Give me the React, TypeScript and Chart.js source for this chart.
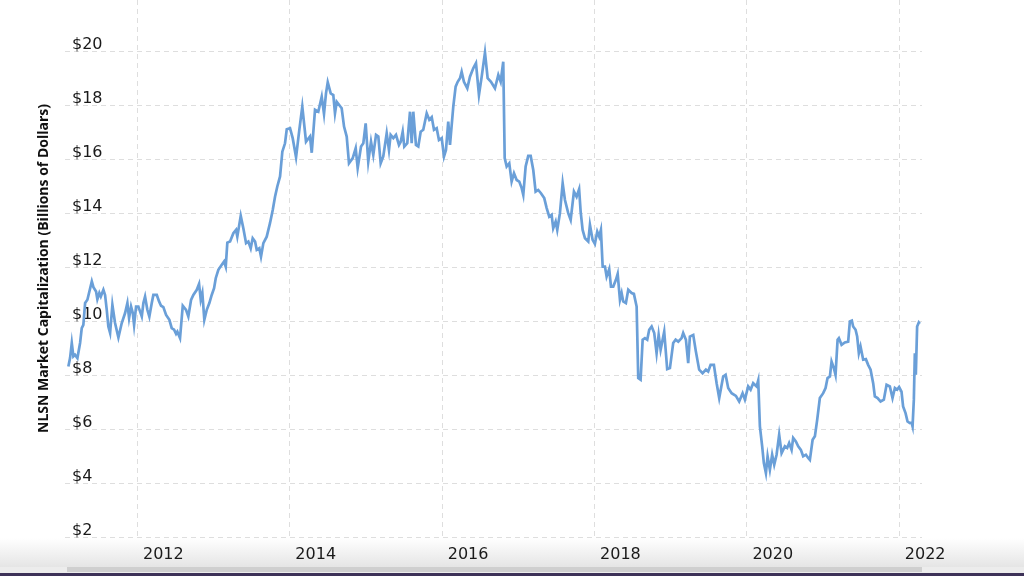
import React, { useEffect, useRef } from "react";
import { Chart, registerables } from "chart.js";

Chart.register(...registerables);

// Decimal-year dates of the samples
const sampleDates: number[] = [
  2011.094, 2011.117, 2011.139, 2011.160, 2011.182, 2011.213, 2011.248, 2011.270, 2011.291, 2011.314,
  2011.344, 2011.402, 2011.423, 2011.458, 2011.475, 2011.501, 2011.520, 2011.554, 2011.576, 2011.598,
  2011.619, 2011.642, 2011.672, 2011.707, 2011.751, 2011.795, 2011.839, 2011.869, 2011.891, 2011.917,
  2011.940, 2011.957, 2011.983, 2012.013, 2012.035, 2012.058, 2012.079, 2012.101, 2012.131, 2012.157,
  2012.189, 2012.210, 2012.255, 2012.285, 2012.311, 2012.341, 2012.377, 2012.420, 2012.451, 2012.482,
  2012.508, 2012.525, 2012.560, 2012.596, 2012.639, 2012.669, 2012.705, 2012.735, 2012.780, 2012.810,
  2012.832, 2012.853, 2012.879, 2012.911, 2012.945, 2012.976, 2013.007, 2013.029, 2013.063, 2013.108,
  2013.138, 2013.160, 2013.181, 2013.217, 2013.260, 2013.295, 2013.312, 2013.357, 2013.391, 2013.427,
  2013.457, 2013.488, 2013.514, 2013.545, 2013.567, 2013.601, 2013.623, 2013.654, 2013.698, 2013.741,
  2013.777, 2013.807, 2013.837, 2013.873, 2013.903, 2013.938, 2013.961, 2014.004, 2014.039, 2014.083,
  2014.126, 2014.165, 2014.214, 2014.266, 2014.289, 2014.332, 2014.375, 2014.420, 2014.450, 2014.476,
  2014.499, 2014.538, 2014.572, 2014.594, 2014.617, 2014.682, 2014.713, 2014.748, 2014.778, 2014.827,
  2014.866, 2014.892, 2014.936, 2014.966, 2014.997, 2015.031, 2015.067, 2015.097, 2015.133, 2015.163,
  2015.194, 2015.228, 2015.273, 2015.303, 2015.325, 2015.360, 2015.395, 2015.434, 2015.457, 2015.483,
  2015.504, 2015.543, 2015.579, 2015.601, 2015.622, 2015.657, 2015.688, 2015.719, 2015.753, 2015.798,
  2015.832, 2015.864, 2015.894, 2015.929, 2015.959, 2015.995, 2016.025, 2016.051, 2016.081, 2016.104,
  2016.147, 2016.178, 2016.205, 2016.235, 2016.257, 2016.287, 2016.331, 2016.366, 2016.409, 2016.445,
  2016.484, 2016.520, 2016.563, 2016.598, 2016.642, 2016.694, 2016.738, 2016.769, 2016.803, 2016.822,
  2016.848, 2016.882, 2016.913, 2016.944, 2016.979, 2017.013, 2017.045, 2017.066, 2017.097, 2017.131,
  2017.163, 2017.197, 2017.228, 2017.262, 2017.298, 2017.341, 2017.373, 2017.407, 2017.438, 2017.459,
  2017.491, 2017.512, 2017.547, 2017.583, 2017.613, 2017.656, 2017.688, 2017.731, 2017.766, 2017.799,
  2017.819, 2017.845, 2017.876, 2017.919, 2017.941, 2017.976, 2018.006, 2018.037, 2018.063, 2018.085,
  2018.108, 2018.138, 2018.160, 2018.194, 2018.217, 2018.247, 2018.282, 2018.305, 2018.335, 2018.357,
  2018.378, 2018.413, 2018.444, 2018.488, 2018.518, 2018.554, 2018.575, 2018.606, 2018.633, 2018.663,
  2018.693, 2018.719, 2018.751, 2018.785, 2018.816, 2018.843, 2018.869, 2018.916, 2018.955, 2018.991,
  2019.034, 2019.066, 2019.100, 2019.144, 2019.165, 2019.201, 2019.231, 2019.253, 2019.297, 2019.332,
  2019.375, 2019.420, 2019.463, 2019.493, 2019.525, 2019.568, 2019.604, 2019.638, 2019.690, 2019.722,
  2019.756, 2019.801, 2019.857, 2019.900, 2019.945, 2019.975, 2020.018, 2020.050, 2020.084, 2020.129,
  2020.150, 2020.172, 2020.202, 2020.224, 2020.251, 2020.273, 2020.303, 2020.333, 2020.360, 2020.391,
  2020.425, 2020.457, 2020.500, 2020.530, 2020.556, 2020.588, 2020.609, 2020.644, 2020.675, 2020.710,
  2020.740, 2020.776, 2020.806, 2020.828, 2020.864, 2020.894, 2020.924, 2020.959, 2021.003, 2021.034,
  2021.060, 2021.091, 2021.113, 2021.143, 2021.165, 2021.192, 2021.209, 2021.244, 2021.287, 2021.331,
  2021.353, 2021.379, 2021.396, 2021.428, 2021.449, 2021.471, 2021.493, 2021.528, 2021.563, 2021.593,
  2021.625, 2021.659, 2021.681, 2021.717, 2021.756, 2021.799, 2021.835, 2021.878, 2021.913, 2021.944,
  2021.974, 2022.000, 2022.031, 2022.052, 2022.084, 2022.110, 2022.140, 2022.163, 2022.176, 2022.193,
  2022.206, 2022.219, 2022.236, 2022.258, 2022.271,
];

// NLSN market capitalization, billions of dollars
const marketCap: number[] = [
  8.32, 8.64, 9.19, 8.69, 8.75, 8.63, 9.19, 9.74, 9.86, 10.67,
  10.79, 11.47, 11.26, 11.10, 10.81, 11.04, 10.91, 11.16, 10.97, 10.42,
  9.80, 9.56, 10.60, 9.93, 9.39, 9.93, 10.30, 10.67, 10.11, 10.54,
  10.30, 9.86, 10.54, 10.54, 10.36, 10.17, 10.67, 10.91, 10.42, 10.17,
  10.67, 10.97, 10.97, 10.73, 10.57, 10.52, 10.23, 10.05, 9.74, 9.68,
  9.53, 9.61, 9.37, 10.57, 10.42, 10.17, 10.79, 10.97, 11.16, 11.38,
  10.79, 11.04, 10.05, 10.42, 10.67, 10.97, 11.22, 11.59, 11.90, 12.09,
  12.21, 12.02, 12.91, 12.95, 13.26, 13.38, 13.13, 13.90, 13.44, 12.89,
  12.95, 12.70, 13.07, 12.95, 12.64, 12.70, 12.39, 12.89, 13.13, 13.63,
  14.12, 14.61, 14.99, 15.36, 16.28, 16.59, 17.11, 17.15, 16.78, 16.07,
  17.09, 17.95, 16.65, 16.84, 16.24, 17.83, 17.76, 18.32, 17.68, 18.44,
  18.85, 18.44, 18.38, 17.70, 18.13, 17.89, 17.21, 16.84, 15.85, 16.04,
  16.41, 15.67, 16.47, 16.59, 17.33, 15.91, 16.65, 16.16, 16.90, 16.84,
  15.85, 16.10, 16.96, 16.34, 16.90, 16.78, 16.90, 16.53, 16.65, 17.02,
  16.47, 16.59, 17.76, 16.59, 17.76, 16.53, 16.47, 17.02, 17.09, 17.70,
  17.46, 17.56, 17.09, 17.15, 16.71, 16.78, 16.10, 16.34, 17.39, 16.53,
  17.95, 18.69, 18.87, 19.00, 19.24, 18.87, 18.63, 19.06, 19.37, 19.56,
  18.38, 19.06, 19.95, 19.00, 18.87, 18.63, 19.12, 18.87, 19.61, 16.04,
  15.73, 15.85, 15.17, 15.48, 15.23, 15.17, 14.93, 14.68, 15.73, 16.12,
  16.12, 15.60, 14.80, 14.86, 14.74, 14.56, 14.19, 13.87, 13.94, 13.44,
  13.69, 13.38, 14.00, 15.11, 14.49, 14.00, 13.75, 14.80, 14.61, 14.89,
  14.06, 13.38, 13.07, 12.95, 13.57, 13.01, 12.86, 13.32, 13.13, 13.38,
  12.02, 12.02, 11.65, 11.93, 11.28, 11.28, 11.53, 11.75, 10.79, 11.04,
  10.73, 10.67, 11.16, 11.04, 11.01, 10.54, 7.89, 7.83, 9.31, 9.37,
  9.31, 9.68, 9.80, 9.56, 8.81, 9.49, 8.94, 9.61, 8.22, 8.26,
  9.19, 9.31, 9.24, 9.37, 9.56, 9.31, 8.44, 9.43, 9.49, 8.87,
  8.20, 8.07, 8.20, 8.13, 8.38, 8.38, 7.70, 7.15, 7.95, 8.01,
  7.52, 7.33, 7.23, 7.02, 7.33, 7.09, 7.58, 7.46, 7.70, 7.58,
  7.80, 6.10, 5.36, 4.74, 4.37, 4.99, 4.49, 5.05, 4.68, 5.05,
  5.79, 5.11, 5.36, 5.30, 5.48, 5.23, 5.67, 5.54, 5.36, 5.23,
  4.99, 5.05, 4.93, 4.86, 5.60, 5.73, 6.34, 7.15, 7.33, 7.52,
  7.89, 7.95, 8.50, 8.26, 8.01, 9.31, 9.37, 9.12, 9.21, 9.24,
  9.99, 10.02, 9.80, 9.68, 9.43, 8.81, 9.06, 8.57, 8.59, 8.38,
  8.20, 7.70, 7.21, 7.15, 7.02, 7.09, 7.64, 7.58, 7.15, 7.52,
  7.46, 7.56, 7.39, 6.84, 6.59, 6.28, 6.22, 6.24, 6.10, 7.09,
  8.81, 8.01, 9.80, 9.95, 9.90,
];

const yearTicks: number[] = [2012, 2014, 2016, 2018, 2020, 2022];
const valueTicks: number[] = [2, 4, 6, 8, 10, 12, 14, 16, 18, 20];
const axisTitle = "NLSN Market Capitalization (Billions of Dollars)";

export default function App() {
  const canvasRef = useRef<HTMLCanvasElement | null>(null);

  useEffect(() => {
    const canvas = canvasRef.current;
    if (!canvas) return;
    const points = sampleDates.map((d, i) => ({ x: d, y: marketCap[i] }));
    const chart = new Chart(canvas, {
      type: "line",
      data: {
        datasets: [
          {
            data: points,
            borderColor: "#6a9fd8",
            borderWidth: 2.7,
            pointRadius: 0,
            tension: 0,
            fill: false,
          },
        ],
      },
      options: {
        animation: false,
        responsive: false,
        devicePixelRatio: 1,
        layout: { padding: { left: 0, right: 102, top: 0, bottom: 12 } },
        plugins: { legend: { display: false }, tooltip: { enabled: false } },
        scales: {
          x: {
            type: "linear",
            min: 2011.05,
            max: 2022.3,
            afterBuildTicks: (scale: any) => {
              scale.ticks = yearTicks.map((v) => ({ value: v }));
            },
            afterFit: (scale: any) => {
              scale.paddingLeft = 0;
              scale.paddingRight = 0;
              scale.height = 27;
            },
            grid: { color: "#dedede", lineWidth: 1, drawTicks: false },
            border: { display: false, dash: [5, 4] },
            ticks: {
              callback: (v: any) => String(v),
              color: "#1a1a1a",
              font: { family: "DejaVu Sans", size: 16 },
              padding: 8,
              labelOffset: 26,
              maxRotation: 0,
              autoSkip: false,
            },
          },
          y: {
            type: "linear",
            min: 2,
            max: 21.9,
            afterBuildTicks: (scale: any) => {
              scale.ticks = valueTicks.map((v) => ({ value: v }));
            },
            afterFit: (scale: any) => {
              scale.paddingTop = 0;
              scale.paddingBottom = 0;
              scale.width = 65;
            },
            grid: { color: "#dedede", lineWidth: 1, drawTicks: false },
            border: { display: false, dash: [5, 4] },
            title: {
              display: true,
              text: axisTitle,
              color: "#111",
              font: { family: "Open Sans", size: 14, weight: "bold" },
              padding: { top: 35.6, bottom: 12.6 },
            },
            ticks: {
              mirror: true,
              padding: 7,
              labelOffset: -6,
              callback: (v: any) => "$" + v,
              color: "#1a1a1a",
              font: { family: "DejaVu Sans", size: 16 },
              autoSkip: false,
            },
          },
        },
      },
    });
    return () => chart.destroy();
  }, []);

  return (
    <div
      style={{
        position: "fixed",
        left: 0,
        top: 0,
        width: 1024,
        height: 576,
        background: "#ffffff",
        overflow: "hidden",
      }}
    >
      <div
        style={{
          position: "absolute",
          left: 0,
          top: 538,
          width: 1024,
          height: 30,
          background: "linear-gradient(#ffffff, #e4e4e4)",
        }}
      />
      <div
        style={{
          position: "absolute",
          left: 0,
          top: 567,
          width: 1024,
          height: 6,
          background: "#ececec",
        }}
      />
      <div
        style={{
          position: "absolute",
          left: 67,
          top: 567,
          width: 855,
          height: 5,
          background: "#cfcfcf",
        }}
      />
      <div
        style={{
          position: "absolute",
          left: 0,
          top: 573,
          width: 1024,
          height: 3,
          background: "#3d3258",
        }}
      />
      <canvas
        ref={canvasRef}
        width={1024}
        height={576}
        style={{ position: "absolute", left: 0, top: 0, width: 1024, height: 576 }}
      />
    </div>
  );
}
